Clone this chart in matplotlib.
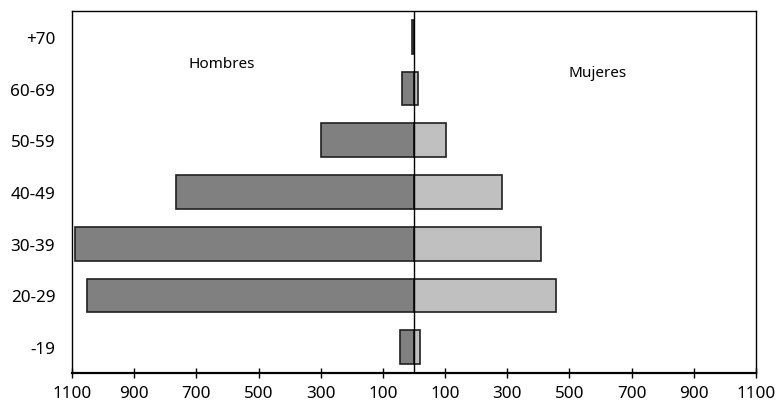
import numpy as np
import matplotlib.pyplot as plt

plt.rcParams['font.family'] = ['Noto Sans', 'DejaVu Sans']

grupos = ['-19', '20-29', '30-39', '40-49', '50-59', '60-69', '+70']
hombres = [45, 1052, 1090, 766, 300, 40, 5]
mujeres = [20, 457, 407, 283, 102, 12, 1]
ticks = [-1100, -900, -700, -500, -300, -100, 100, 300, 500, 700, 900, 1100]

fig = plt.figure(figsize=(7.76, 4.10), dpi=100)
ax = fig.add_axes([72/776, 1-374/410, 684/776, 362/410])

y = np.arange(len(grupos))
ax.barh(y, -np.array(hombres), height=0.65, color='#808080', edgecolor='#202020', linewidth=1.2)
ax.barh(y, mujeres, height=0.65, color='#c0c0c0', edgecolor='#202020', linewidth=1.2)
ax.axvline(0, color='black', linewidth=1)

ax.set_xlim(-1100, 1100)
ax.set_ylim(-0.5, 6.5)
ax.set_yticks(y)
ax.set_yticklabels(grupos, fontsize=12.3)
ax.tick_params(axis='y', length=0, pad=12)
ax.set_xticks(ticks)
ax.set_xticklabels([str(abs(t)) for t in ticks], fontsize=12.3)
ax.tick_params(axis='x', direction='inout', length=7, width=1, pad=5)
ax.spines['bottom'].set_linewidth(1.6)
for s in ['left', 'top', 'right']:
	ax.spines[s].set_linewidth(1)

ax.text(-617, 5.48, 'Hombres', fontsize=11, ha='center', va='center')
ax.text(590, 5.32, 'Mujeres', fontsize=11, ha='center', va='center')

fig.savefig('out.png')
